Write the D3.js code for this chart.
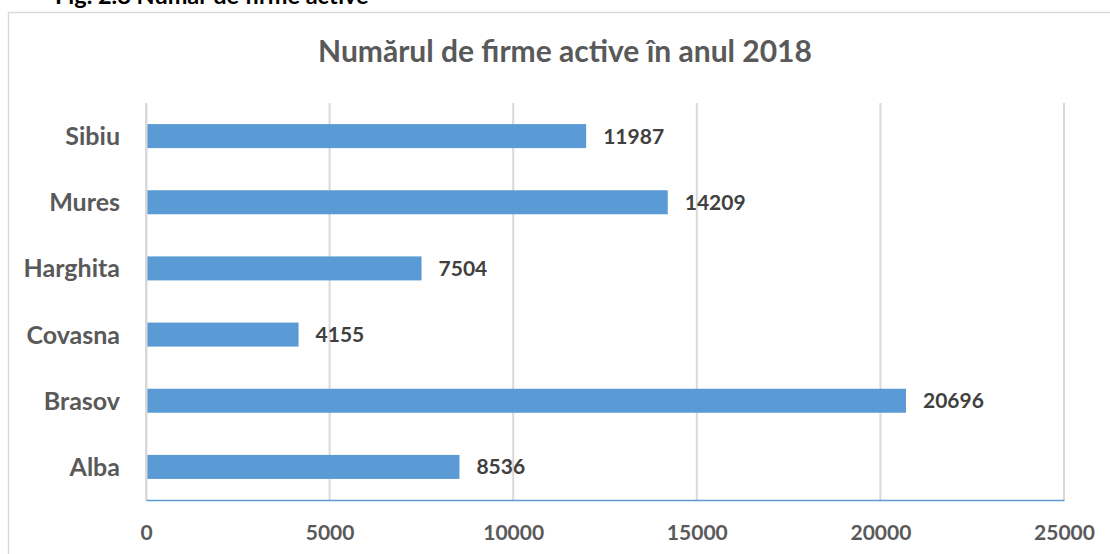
<!DOCTYPE html>
<html>
<head>
<meta charset="utf-8">
<script src="https://cdn.jsdelivr.net/npm/d3@7"></script>
<style>
  body { margin: 0; background: #fff; }
  text { font-family: Lato, "Open Sans", sans-serif; font-weight: bold; }
</style>
</head>
<body>
<div class="chart"></div>
<script>
// data
var counties = ["Sibiu", "Mures", "Harghita", "Covasna", "Brasov", "Alba"];
var firms = [11987, 14209, 7504, 4155, 20696, 8536];
var xTicks = [0, 5000, 10000, 15000, 20000, 25000];

var svgWidth = 1110;
var svgHeight = 554;

var margin = { top: 103, left: 146, right: 46, bottom: 53 };
var width = 1064 - margin.left;
var height = 500 - margin.top;

var svg = d3.select(".chart")
    .append("svg")
    .attr("width", svgWidth)
    .attr("height", svgHeight);

// caption above the chart box (cut at the top)
svg.append("text")
    .attr("x", 55)
    .attr("y", 4)
    .attr("fill", "#000")
    .style("font-size", "23.5px")
    .text("Fig. 2.8 Număr de firme active");

// chart border
svg.append("rect")
    .attr("x", 8.5)
    .attr("y", 12.5)
    .attr("width", 1200)
    .attr("height", 700)
    .attr("fill", "#fff")
    .attr("stroke", "#d9d9d9")
    .attr("stroke-width", 1.5);

svg.append("text")
    .attr("x", 565)
    .attr("y", 62)
    .attr("text-anchor", "middle")
    .attr("fill", "#595959")
    .style("font-size", "30px")
    .text("Numărul de firme active în anul 2018");

var chart = svg.append("g")
    .attr("transform", "translate(" + margin.left + "," + margin.top + ")");

var xScale = d3.scaleLinear().domain([0, 25000]).range([0, width]);
var yScale = d3.scaleBand().domain(counties).range([0, height]).paddingInner(0.637).paddingOuter(0.3185);

// vertical gridlines
chart.selectAll(".grid")
    .data(xTicks)
    .enter()
    .append("line")
    .attr("class", "grid")
    .attr("x1", function(d) { return xScale(d); })
    .attr("x2", function(d) { return xScale(d); })
    .attr("y1", 0)
    .attr("y2", height)
    .attr("stroke", "#d9d9d9")
    .attr("stroke-width", 2);

// bars
chart.selectAll(".bar")
    .data(firms)
    .enter()
    .append("rect")
    .attr("class", "bar")
    .attr("x", xScale(0) + 1)
    .attr("y", function(d, i) { return yScale(counties[i]); })
    .attr("width", function(d) { return xScale(d) - xScale(0) - 1; })
    .attr("height", yScale.bandwidth())
    .attr("fill", "#5b9bd5");

// value labels
chart.selectAll(".val")
    .data(firms)
    .enter()
    .append("text")
    .attr("class", "val")
    .attr("x", function(d) { return xScale(d) + 17; })
    .attr("y", function(d, i) { return yScale(counties[i]) + yScale.bandwidth() / 2; })
    .attr("dy", "0.36em")
    .attr("fill", "#404040")
    .style("font-size", "21px")
    .text(function(d) { return d; });

// category axis
var leftAxis = d3.axisLeft(yScale).tickSize(0).tickPadding(26);
var yAxis = chart.append("g").call(leftAxis);
yAxis.select(".domain").attr("stroke", "#d9d9d9").attr("stroke-width", 2);
yAxis.selectAll("text")
    .attr("fill", "#595959")
    .attr("dy", "0.36em")
    .style("font-size", "25px")
    .style("font-family", "Lato, sans-serif");

// value axis
var bottomAxis = d3.axisBottom(xScale).tickValues(xTicks).tickSize(0).tickPadding(25).tickFormat(d3.format("d"));
var xAxis = chart.append("g")
    .attr("transform", "translate(0," + height + ")")
    .call(bottomAxis);
xAxis.select(".domain").attr("stroke", "#5b9bd5").attr("stroke-width", 1.5);
xAxis.selectAll("text")
    .attr("fill", "#595959")
    .attr("dy", "0.71em")
    .style("font-size", "21px")
    .style("font-family", "Lato, sans-serif");
</script>
</body>
</html>
